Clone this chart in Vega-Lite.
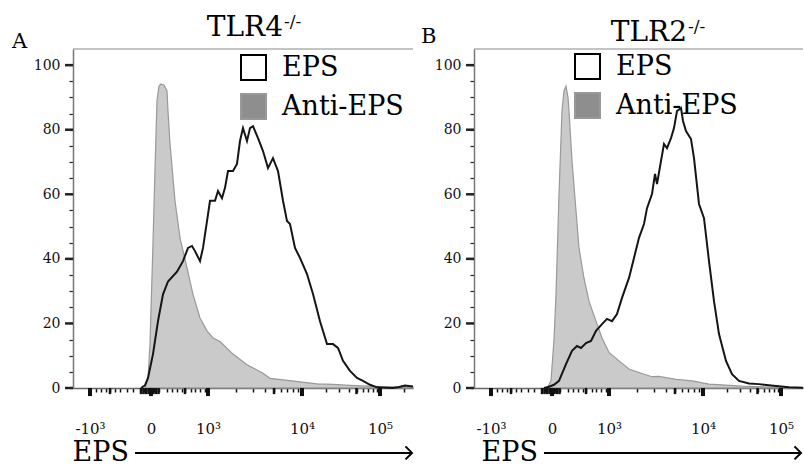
{
  "$schema": "https://vega.github.io/schema/vega-lite/v6.json",
  "padding": {"left": 12, "top": 13, "right": 0, "bottom": 0},
  "config": {"view": {"stroke": null}, "font": "DejaVu Serif"},
  "spacing": 4,
  "resolve": {
    "scale": {"x": "independent", "y": "independent", "fill": "independent", "stroke": "independent"},
    "legend": {"fill": "independent", "stroke": "independent"},
    "axis": {"x": "independent", "y": "independent"}
  },
  "datasets": {
    "xticks": [
      {"channel": 17, "kind": "major"}, {"channel": 78, "kind": "major"}, {"channel": 135, "kind": "major"},
      {"channel": 229, "kind": "major"}, {"channel": 307, "kind": "major"},
      {"channel": 37, "kind": "medium"}, {"channel": 112, "kind": "medium"}, {"channel": 201, "kind": "medium"},
      {"channel": 283.5, "kind": "medium"}, {"channel": 68, "kind": "medium"}, {"channel": 70.5, "kind": "medium"},
      {"channel": 73, "kind": "medium"}, {"channel": 75.5, "kind": "medium"}, {"channel": 80.5, "kind": "medium"},
      {"channel": 83, "kind": "medium"}, {"channel": 85.5, "kind": "medium"}
    ],
    "yticks": [
      {"pct": 0}, {"pct": 20}, {"pct": 40}, {"pct": 60}, {"pct": 80}, {"pct": 100}
    ],
    "tlr4": [
      {"sample": "Anti-EPS", "channel": 72, "pct": 0},
      {"sample": "Anti-EPS", "channel": 75, "pct": 3},
      {"sample": "Anti-EPS", "channel": 77, "pct": 13.6},
      {"sample": "Anti-EPS", "channel": 80, "pct": 45},
      {"sample": "Anti-EPS", "channel": 82, "pct": 68},
      {"sample": "Anti-EPS", "channel": 84, "pct": 89},
      {"sample": "Anti-EPS", "channel": 86, "pct": 93.5},
      {"sample": "Anti-EPS", "channel": 88, "pct": 94.2},
      {"sample": "Anti-EPS", "channel": 91, "pct": 93.8},
      {"sample": "Anti-EPS", "channel": 94, "pct": 92},
      {"sample": "Anti-EPS", "channel": 95, "pct": 85.8},
      {"sample": "Anti-EPS", "channel": 97, "pct": 75.6},
      {"sample": "Anti-EPS", "channel": 100, "pct": 65},
      {"sample": "Anti-EPS", "channel": 102, "pct": 58},
      {"sample": "Anti-EPS", "channel": 107, "pct": 46.5},
      {"sample": "Anti-EPS", "channel": 114, "pct": 37.2},
      {"sample": "Anti-EPS", "channel": 120, "pct": 29},
      {"sample": "Anti-EPS", "channel": 127, "pct": 21.7},
      {"sample": "Anti-EPS", "channel": 134, "pct": 17.7},
      {"sample": "Anti-EPS", "channel": 140, "pct": 15.5},
      {"sample": "Anti-EPS", "channel": 147, "pct": 14.4},
      {"sample": "Anti-EPS", "channel": 160, "pct": 10.5},
      {"sample": "Anti-EPS", "channel": 174, "pct": 7.2},
      {"sample": "Anti-EPS", "channel": 190, "pct": 4.6},
      {"sample": "Anti-EPS", "channel": 197, "pct": 3},
      {"sample": "Anti-EPS", "channel": 210, "pct": 2.5},
      {"sample": "Anti-EPS", "channel": 227, "pct": 1.9},
      {"sample": "Anti-EPS", "channel": 244, "pct": 1.3},
      {"sample": "Anti-EPS", "channel": 260, "pct": 1.1},
      {"sample": "Anti-EPS", "channel": 277, "pct": 0.8},
      {"sample": "Anti-EPS", "channel": 294, "pct": 0.6},
      {"sample": "Anti-EPS", "channel": 307, "pct": 0.4},
      {"sample": "Anti-EPS", "channel": 340, "pct": 0.3},
      {"sample": "EPS", "channel": 68, "pct": 0},
      {"sample": "EPS", "channel": 72, "pct": 0.8},
      {"sample": "EPS", "channel": 75, "pct": 3.1},
      {"sample": "EPS", "channel": 80, "pct": 10.5},
      {"sample": "EPS", "channel": 85, "pct": 20.7},
      {"sample": "EPS", "channel": 90, "pct": 29},
      {"sample": "EPS", "channel": 95, "pct": 33},
      {"sample": "EPS", "channel": 104, "pct": 36},
      {"sample": "EPS", "channel": 110, "pct": 39.3},
      {"sample": "EPS", "channel": 115, "pct": 43.4},
      {"sample": "EPS", "channel": 119, "pct": 44},
      {"sample": "EPS", "channel": 122, "pct": 42.4},
      {"sample": "EPS", "channel": 127, "pct": 39.3},
      {"sample": "EPS", "channel": 130, "pct": 43.4},
      {"sample": "EPS", "channel": 134, "pct": 51.7},
      {"sample": "EPS", "channel": 137, "pct": 58},
      {"sample": "EPS", "channel": 142, "pct": 58},
      {"sample": "EPS", "channel": 145, "pct": 61},
      {"sample": "EPS", "channel": 149, "pct": 58.8},
      {"sample": "EPS", "channel": 152, "pct": 62},
      {"sample": "EPS", "channel": 155, "pct": 67.2},
      {"sample": "EPS", "channel": 160, "pct": 67.2},
      {"sample": "EPS", "channel": 164, "pct": 69.4},
      {"sample": "EPS", "channel": 167, "pct": 76.5},
      {"sample": "EPS", "channel": 170, "pct": 80.5},
      {"sample": "EPS", "channel": 174, "pct": 76.5},
      {"sample": "EPS", "channel": 177, "pct": 80.5},
      {"sample": "EPS", "channel": 180, "pct": 81.1},
      {"sample": "EPS", "channel": 185, "pct": 77.4},
      {"sample": "EPS", "channel": 190, "pct": 73.4},
      {"sample": "EPS", "channel": 195, "pct": 68.1},
      {"sample": "EPS", "channel": 200, "pct": 71.2},
      {"sample": "EPS", "channel": 205, "pct": 67.2},
      {"sample": "EPS", "channel": 210, "pct": 58},
      {"sample": "EPS", "channel": 214, "pct": 51.7},
      {"sample": "EPS", "channel": 217, "pct": 50.8},
      {"sample": "EPS", "channel": 222, "pct": 43.4},
      {"sample": "EPS", "channel": 227, "pct": 40.3},
      {"sample": "EPS", "channel": 234, "pct": 35.3},
      {"sample": "EPS", "channel": 240, "pct": 29.1},
      {"sample": "EPS", "channel": 247, "pct": 20.7},
      {"sample": "EPS", "channel": 254, "pct": 13.6},
      {"sample": "EPS", "channel": 260, "pct": 13.6},
      {"sample": "EPS", "channel": 265, "pct": 12.4},
      {"sample": "EPS", "channel": 270, "pct": 8.4},
      {"sample": "EPS", "channel": 277, "pct": 5.3},
      {"sample": "EPS", "channel": 284, "pct": 3.1},
      {"sample": "EPS", "channel": 290, "pct": 2.2},
      {"sample": "EPS", "channel": 297, "pct": 1},
      {"sample": "EPS", "channel": 304, "pct": 0.2},
      {"sample": "EPS", "channel": 320, "pct": 0},
      {"sample": "EPS", "channel": 326, "pct": 0.3},
      {"sample": "EPS", "channel": 332, "pct": 0.8},
      {"sample": "EPS", "channel": 340, "pct": 0.5}
    ],
    "tlr2": [
      {"sample": "Anti-EPS", "channel": 73, "pct": 0},
      {"sample": "Anti-EPS", "channel": 77, "pct": 2.2},
      {"sample": "Anti-EPS", "channel": 80, "pct": 15},
      {"sample": "Anti-EPS", "channel": 82, "pct": 29},
      {"sample": "Anti-EPS", "channel": 85, "pct": 60},
      {"sample": "Anti-EPS", "channel": 88, "pct": 85.8},
      {"sample": "Anti-EPS", "channel": 90, "pct": 92},
      {"sample": "Anti-EPS", "channel": 92, "pct": 93.5},
      {"sample": "Anti-EPS", "channel": 94, "pct": 90},
      {"sample": "Anti-EPS", "channel": 95, "pct": 85.8},
      {"sample": "Anti-EPS", "channel": 98, "pct": 70.3},
      {"sample": "Anti-EPS", "channel": 102, "pct": 54.8},
      {"sample": "Anti-EPS", "channel": 105, "pct": 43.4},
      {"sample": "Anti-EPS", "channel": 110, "pct": 34},
      {"sample": "Anti-EPS", "channel": 115, "pct": 26.9},
      {"sample": "Anti-EPS", "channel": 122, "pct": 20.7},
      {"sample": "Anti-EPS", "channel": 128, "pct": 15.5},
      {"sample": "Anti-EPS", "channel": 135, "pct": 11},
      {"sample": "Anti-EPS", "channel": 145, "pct": 8.4},
      {"sample": "Anti-EPS", "channel": 155, "pct": 5.9},
      {"sample": "Anti-EPS", "channel": 168, "pct": 4.5},
      {"sample": "Anti-EPS", "channel": 178, "pct": 3.5},
      {"sample": "Anti-EPS", "channel": 185, "pct": 3.6},
      {"sample": "Anti-EPS", "channel": 192, "pct": 3.2},
      {"sample": "Anti-EPS", "channel": 202, "pct": 2.7},
      {"sample": "Anti-EPS", "channel": 218, "pct": 2.2},
      {"sample": "Anti-EPS", "channel": 235, "pct": 1.2},
      {"sample": "Anti-EPS", "channel": 268, "pct": 0.6},
      {"sample": "Anti-EPS", "channel": 305, "pct": 0.2},
      {"sample": "Anti-EPS", "channel": 329, "pct": 0.1},
      {"sample": "EPS", "channel": 70, "pct": 0},
      {"sample": "EPS", "channel": 75, "pct": 0.4},
      {"sample": "EPS", "channel": 80, "pct": 1},
      {"sample": "EPS", "channel": 85, "pct": 2.2},
      {"sample": "EPS", "channel": 92, "pct": 7.4},
      {"sample": "EPS", "channel": 98, "pct": 11.5},
      {"sample": "EPS", "channel": 103, "pct": 13},
      {"sample": "EPS", "channel": 107, "pct": 12.4},
      {"sample": "EPS", "channel": 112, "pct": 13.9},
      {"sample": "EPS", "channel": 117, "pct": 14.6},
      {"sample": "EPS", "channel": 122, "pct": 17.7},
      {"sample": "EPS", "channel": 128, "pct": 19.8},
      {"sample": "EPS", "channel": 133, "pct": 21.4},
      {"sample": "EPS", "channel": 138, "pct": 20.7},
      {"sample": "EPS", "channel": 143, "pct": 22.9},
      {"sample": "EPS", "channel": 148, "pct": 27.9},
      {"sample": "EPS", "channel": 155, "pct": 34.1},
      {"sample": "EPS", "channel": 160, "pct": 40.3},
      {"sample": "EPS", "channel": 165, "pct": 46.5},
      {"sample": "EPS", "channel": 170, "pct": 50.8},
      {"sample": "EPS", "channel": 173, "pct": 55.7},
      {"sample": "EPS", "channel": 178, "pct": 60.1},
      {"sample": "EPS", "channel": 181, "pct": 66.3},
      {"sample": "EPS", "channel": 183, "pct": 63.2},
      {"sample": "EPS", "channel": 187, "pct": 70.3},
      {"sample": "EPS", "channel": 190, "pct": 75.6},
      {"sample": "EPS", "channel": 193, "pct": 74.3},
      {"sample": "EPS", "channel": 197, "pct": 77.4},
      {"sample": "EPS", "channel": 200, "pct": 80.5},
      {"sample": "EPS", "channel": 203, "pct": 85.8},
      {"sample": "EPS", "channel": 207, "pct": 86.7},
      {"sample": "EPS", "channel": 209, "pct": 82.7},
      {"sample": "EPS", "channel": 212, "pct": 79.6},
      {"sample": "EPS", "channel": 217, "pct": 77.1},
      {"sample": "EPS", "channel": 220, "pct": 71.2},
      {"sample": "EPS", "channel": 225, "pct": 57},
      {"sample": "EPS", "channel": 230, "pct": 52.6},
      {"sample": "EPS", "channel": 235, "pct": 39.3},
      {"sample": "EPS", "channel": 240, "pct": 26.9},
      {"sample": "EPS", "channel": 245, "pct": 16.7},
      {"sample": "EPS", "channel": 252, "pct": 8.4},
      {"sample": "EPS", "channel": 258, "pct": 4.3},
      {"sample": "EPS", "channel": 265, "pct": 2.2},
      {"sample": "EPS", "channel": 275, "pct": 1.4},
      {"sample": "EPS", "channel": 285, "pct": 1.2},
      {"sample": "EPS", "channel": 302, "pct": 0.6},
      {"sample": "EPS", "channel": 315, "pct": 0.2},
      {"sample": "EPS", "channel": 329, "pct": 0.1}
    ]
  },
  "hconcat": [
    {
      "width": 340,
      "height": 339,
      "layer": [
        {
          "data": {"name": "tlr4"},
          "transform": [{"filter": "datum.sample === 'Anti-EPS'"}],
          "mark": {"type": "area", "fillOpacity": 0.47, "strokeWidth": 1.2},
          "encoding": {
            "x": {
              "field": "channel", "type": "quantitative",
              "scale": {"domain": [0, 340], "nice": false, "zero": false},
              "axis": {
                "values": [17, 23, 28, 33, 37, 42, 47, 54, 60, 68, 70.5, 73, 75.5, 78, 80.5, 83, 85.5, 94, 99, 104, 109, 112, 118, 122, 127, 132, 135, 163, 180, 192, 201, 208, 214, 220, 225, 229, 252.5, 266, 276, 283.5, 289.5, 295, 299.5, 303.5, 307, 330.5],
                "tickCount": 500,
                "labelExpr": "datum.value == 17 ? '-10³' : datum.value == 78 ? '0' : datum.value == 135 ? '10³' : datum.value == 229 ? '10⁴' : datum.value == 307 ? '10⁵' : ''",
                "labelFont": "DejaVu Serif", "labelFontSize": 15, "labelColor": "#111", "labelPadding": 29,
                "labelOverlap": false, "labelFlush": false, "labelBound": false,
                "tickColor": "#111", "tickSize": 4, "tickWidth": 1.5,
                "domainColor": "#666", "domainWidth": 1.5, "grid": false,
                "title": "EPS", "titleFont": "DejaVu Serif", "titleFontSize": 27, "titleFontWeight": "normal", "titleColor": "#000",
                "titleAlign": "left", "titleAnchor": "start", "titleBaseline": "alphabetic", "titleX": -1, "titleY": 72
              }
            },
            "y": {
              "field": "pct", "type": "quantitative",
              "scale": {"domain": [0, 105], "nice": false},
              "axis": {
                "values": [0, 5, 10, 15, 20, 25, 30, 35, 40, 45, 50, 55, 60, 65, 70, 75, 80, 85, 90, 95, 100],
                "tickCount": 500,
                "labelExpr": "datum.value % 20 === 0 ? format(datum.value, 'd') : ''",
                "labelFont": "DejaVu Serif", "labelFontSize": 14, "labelColor": "#111", "labelPadding": 9, "labelOverlap": false,
                "tickColor": "#222", "tickSize": 4, "tickWidth": 1.2,
                "domainColor": "#777", "domainWidth": 1.5, "grid": false, "title": null
              }
            },
            "fill": {
              "field": "sample", "type": "nominal",
              "scale": {"domain": ["EPS", "Anti-EPS"], "range": ["#ffffff", "#8e8e8e"]},
              "legend": {
                "orient": "none", "legendX": 167, "legendY": 5, "title": null, "padding": 0,
                "symbolType": "square", "symbolSize": 625, "symbolStrokeWidth": 2, "symbolOpacity": 1,
                "labelFont": "DejaVu Serif", "labelFontSize": 27, "labelColor": "#000", "labelOffset": 15, "labelLimit": 300,
                "rowPadding": 6
              }
            },
            "stroke": {
              "field": "sample", "type": "nominal",
              "scale": {"domain": ["EPS", "Anti-EPS"], "range": ["#000000", "#999999"]},
              "legend": {
                "orient": "none", "legendX": 167, "legendY": 5, "title": null, "padding": 0,
                "symbolType": "square", "symbolSize": 625, "symbolStrokeWidth": 2, "symbolOpacity": 1,
                "labelFont": "DejaVu Serif", "labelFontSize": 27, "labelColor": "#000", "labelOffset": 15, "labelLimit": 300,
                "rowPadding": 6
              }
            }
          }
        },
        {
          "data": {"name": "tlr4"},
          "transform": [{"filter": "datum.sample === 'EPS'"}],
          "mark": {"type": "line", "color": "#151515", "strokeWidth": 2},
          "encoding": {
            "x": {"field": "channel", "type": "quantitative"},
            "y": {"field": "pct", "type": "quantitative"}
          }
        },
        {
          "data": {"name": "xticks"},
          "transform": [{"filter": "datum.kind === 'major'"}],
          "mark": {"type": "rule", "color": "#111", "strokeWidth": 4},
          "encoding": {"x": {"field": "channel", "type": "quantitative"}, "y": {"datum": 0}, "y2": {"datum": -2.5}}
        },
        {
          "data": {"name": "xticks"},
          "transform": [{"filter": "datum.kind === 'medium'"}],
          "mark": {"type": "rule", "color": "#111", "strokeWidth": 2.5},
          "encoding": {"x": {"field": "channel", "type": "quantitative"}, "y": {"datum": 0}, "y2": {"datum": -1.9}}
        },
        {
          "data": {"name": "yticks"},
          "mark": {"type": "rule", "color": "#222", "strokeWidth": 2.5},
          "encoding": {"y": {"field": "pct", "type": "quantitative"}, "x": {"datum": 0}, "x2": {"datum": -8}}
        },
        {
          "data": {"values": [{}]},
          "mark": {"type": "rule", "color": "#888", "strokeWidth": 1},
          "encoding": {"y": {"datum": 105}}
        },
        {
          "data": {"values": [{}]},
          "mark": {"type": "rule", "color": "#000", "strokeWidth": 2},
          "encoding": {"x": {"datum": 62}, "x2": {"datum": 338}, "y": {"datum": -20.1}}
        },
        {
          "data": {"values": [{}]},
          "mark": {"type": "point", "shape": "M-1,-1L0,0L-1,1", "filled": false, "stroke": "#000", "strokeWidth": 2, "size": 170, "opacity": 1},
          "encoding": {"x": {"datum": 339}, "y": {"datum": -20.1}}
        },
        {
          "data": {"values": [{}]},
          "mark": {"type": "text", "text": "TLR4", "align": "right", "baseline": "alphabetic", "fontSize": 28, "font": "DejaVu Serif", "color": "#000"},
          "encoding": {"x": {"datum": 210}, "y": {"datum": 109}}
        },
        {
          "data": {"values": [{}]},
          "mark": {"type": "text", "text": "-/-", "align": "left", "baseline": "alphabetic", "fontSize": 17, "font": "DejaVu Serif", "color": "#000", "dy": -9},
          "encoding": {"x": {"datum": 211}, "y": {"datum": 109}}
        },
        {
          "data": {"values": [{}]},
          "mark": {"type": "text", "text": "A", "align": "left", "baseline": "alphabetic", "fontSize": 21, "font": "DejaVu Serif", "color": "#000"},
          "encoding": {"x": {"datum": -61}, "y": {"datum": 105.3}}
        }
      ]
    },
    {
      "width": 329,
      "height": 339,
      "layer": [
        {
          "data": {"name": "tlr2"},
          "transform": [{"filter": "datum.sample === 'Anti-EPS'"}],
          "mark": {"type": "area", "fillOpacity": 0.47, "strokeWidth": 1.2},
          "encoding": {
            "x": {
              "field": "channel", "type": "quantitative",
              "scale": {"domain": [0, 329], "nice": false, "zero": false},
              "axis": {
                "values": [17, 23, 28, 33, 37, 42, 47, 54, 60, 68, 70.5, 73, 75.5, 78, 80.5, 83, 85.5, 94, 99, 104, 109, 112, 118, 122, 127, 132, 135, 163, 180, 192, 201, 208, 214, 220, 225, 229, 252.5, 266, 276, 283.5, 289.5, 295, 299.5, 303.5, 307],
                "tickCount": 500,
                "labelExpr": "datum.value == 17 ? '-10³' : datum.value == 78 ? '0' : datum.value == 135 ? '10³' : datum.value == 229 ? '10⁴' : datum.value == 307 ? '10⁵' : ''",
                "labelFont": "DejaVu Serif", "labelFontSize": 15, "labelColor": "#111", "labelPadding": 29,
                "labelOverlap": false, "labelFlush": false, "labelBound": false,
                "tickColor": "#111", "tickSize": 4, "tickWidth": 1.5,
                "domainColor": "#666", "domainWidth": 1.5, "grid": false,
                "title": "EPS", "titleFont": "DejaVu Serif", "titleFontSize": 27, "titleFontWeight": "normal", "titleColor": "#000",
                "titleAlign": "left", "titleAnchor": "start", "titleBaseline": "alphabetic", "titleX": 7, "titleY": 72
              }
            },
            "y": {
              "field": "pct", "type": "quantitative",
              "scale": {"domain": [0, 105], "nice": false},
              "axis": {
                "values": [0, 5, 10, 15, 20, 25, 30, 35, 40, 45, 50, 55, 60, 65, 70, 75, 80, 85, 90, 95, 100],
                "tickCount": 500,
                "labelExpr": "datum.value % 20 === 0 ? format(datum.value, 'd') : ''",
                "labelFont": "DejaVu Serif", "labelFontSize": 14, "labelColor": "#111", "labelPadding": 9, "labelOverlap": false,
                "tickColor": "#222", "tickSize": 4, "tickWidth": 1.2,
                "domainColor": "#777", "domainWidth": 1.5, "grid": false, "title": null
              }
            },
            "fill": {
              "field": "sample", "type": "nominal",
              "scale": {"domain": ["EPS", "Anti-EPS"], "range": ["#ffffff", "#8e8e8e"]},
              "legend": {
                "orient": "none", "legendX": 100, "legendY": 4, "title": null, "padding": 0,
                "symbolType": "square", "symbolSize": 625, "symbolStrokeWidth": 2, "symbolOpacity": 1,
                "labelFont": "DejaVu Serif", "labelFontSize": 27, "labelColor": "#000", "labelOffset": 15, "labelLimit": 300,
                "rowPadding": 6
              }
            },
            "stroke": {
              "field": "sample", "type": "nominal",
              "scale": {"domain": ["EPS", "Anti-EPS"], "range": ["#000000", "#999999"]},
              "legend": {
                "orient": "none", "legendX": 100, "legendY": 4, "title": null, "padding": 0,
                "symbolType": "square", "symbolSize": 625, "symbolStrokeWidth": 2, "symbolOpacity": 1,
                "labelFont": "DejaVu Serif", "labelFontSize": 27, "labelColor": "#000", "labelOffset": 15, "labelLimit": 300,
                "rowPadding": 6
              }
            }
          }
        },
        {
          "data": {"name": "tlr2"},
          "transform": [{"filter": "datum.sample === 'EPS'"}],
          "mark": {"type": "line", "color": "#151515", "strokeWidth": 2},
          "encoding": {
            "x": {"field": "channel", "type": "quantitative"},
            "y": {"field": "pct", "type": "quantitative"}
          }
        },
        {
          "data": {"name": "xticks"},
          "transform": [{"filter": "datum.kind === 'major' && datum.channel <= 329"}],
          "mark": {"type": "rule", "color": "#111", "strokeWidth": 4},
          "encoding": {"x": {"field": "channel", "type": "quantitative"}, "y": {"datum": 0}, "y2": {"datum": -2.5}}
        },
        {
          "data": {"name": "xticks"},
          "transform": [{"filter": "datum.kind === 'medium' && datum.channel <= 329"}],
          "mark": {"type": "rule", "color": "#111", "strokeWidth": 2.5},
          "encoding": {"x": {"field": "channel", "type": "quantitative"}, "y": {"datum": 0}, "y2": {"datum": -1.9}}
        },
        {
          "data": {"name": "yticks"},
          "mark": {"type": "rule", "color": "#222", "strokeWidth": 2.5},
          "encoding": {"y": {"field": "pct", "type": "quantitative"}, "x": {"datum": 0}, "x2": {"datum": -8}}
        },
        {
          "data": {"values": [{}]},
          "mark": {"type": "rule", "color": "#888", "strokeWidth": 1},
          "encoding": {"y": {"datum": 105}}
        },
        {
          "data": {"values": [{}]},
          "mark": {"type": "rule", "color": "#000", "strokeWidth": 2},
          "encoding": {"x": {"datum": 70}, "x2": {"datum": 326}, "y": {"datum": -20.1}}
        },
        {
          "data": {"values": [{}]},
          "mark": {"type": "point", "shape": "M-1,-1L0,0L-1,1", "filled": false, "stroke": "#000", "strokeWidth": 2, "size": 170, "opacity": 1},
          "encoding": {"x": {"datum": 327}, "y": {"datum": -20.1}}
        },
        {
          "data": {"values": [{}]},
          "mark": {"type": "text", "text": "TLR2", "align": "right", "baseline": "alphabetic", "fontSize": 28, "font": "DejaVu Serif", "color": "#000"},
          "encoding": {"x": {"datum": 213}, "y": {"datum": 107.5}}
        },
        {
          "data": {"values": [{}]},
          "mark": {"type": "text", "text": "-/-", "align": "left", "baseline": "alphabetic", "fontSize": 17, "font": "DejaVu Serif", "color": "#000", "dy": -9},
          "encoding": {"x": {"datum": 214}, "y": {"datum": 107.5}}
        },
        {
          "data": {"values": [{}]},
          "mark": {"type": "text", "text": "B", "align": "left", "baseline": "alphabetic", "fontSize": 21, "font": "DejaVu Serif", "color": "#000"},
          "encoding": {"x": {"datum": -53}, "y": {"datum": 106.8}}
        }
      ]
    }
  ]
}
